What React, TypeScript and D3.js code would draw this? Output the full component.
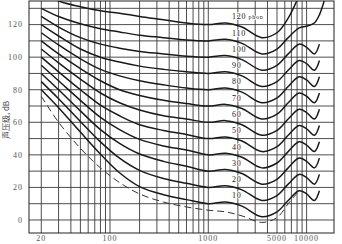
import React from 'react';
import * as d3 from 'd3';

// Frequencies (Hz) at which each equal-loudness curve is read
const FREQS = [20, 30, 50, 80, 125, 200, 350, 600, 1000, 1500, 2200, 3500, 5000, 6500, 8400, 10000, 12000, 13500, 15500];
const PHONS = [10, 20, 30, 40, 50, 60, 70, 80, 90, 100, 110, 120];

const CURVE_10 = [80, 69, 54, 40.5, 29, 20.5, 15.5, 12.5, 10, 11, 8.5, 2, 5, 12, 18, 16, 12, 18, null];
const CURVE_20 = [85, 74.5, 60.5, 48, 38, 30.5, 25.5, 22.5, 20, 21, 18.5, 12, 15, 22, 28, 26, 22, 28, null];
const CURVE_30 = [90, 80, 67, 55.5, 47, 40.5, 36, 33, 30, 31, 28.5, 22, 25, 32, 38, 36, 32, 38, null];
const CURVE_40 = [95, 85.5, 73.5, 63, 55.5, 49.5, 45.5, 43, 40, 41, 38.5, 32, 35, 42, 48, 46, 42, 48, null];
const CURVE_50 = [100, 91, 80, 70.5, 64, 58.5, 55, 52.5, 50, 51, 48.5, 42, 45, 52, 58, 56, 52, 58, null];
const CURVE_60 = [105, 96.5, 86.5, 78, 72, 67.5, 64, 62, 60, 61, 58.5, 52, 55, 62, 68, 66, 62, 68, null];
const CURVE_70 = [110, 102, 93, 85.5, 80, 76.5, 73.5, 71.5, 70, 71, 68.5, 62, 65, 72, 78, 76, 72, 78, null];
const CURVE_80 = [115, 107.5, 99, 92.5, 88.5, 85.5, 83, 81, 80, 81, 78.5, 72, 75, 82, 88, 86, 82, 88, null];
const CURVE_90 = [120, 113, 105, 100, 97, 94.5, 92.5, 91, 90, 91, 88.5, 82, 85, 92, 98, 96, 92, 98, null];
const CURVE_100 = [125, 118.5, 112, 108, 105.5, 103.5, 102, 100.5, 100, 101, 98.5, 92, 95, 102, 108, 106, 102, 108, null];
const CURVE_110 = [130, 125, 120.5, 117.5, 115.5, 113.5, 112, 110.5, 110, 111, 108.5, 102, 105, 112, 118, 119, 121, 126, 137];
const CURVE_120 = [140, 134.5, 131, 128.5, 127, 125, 123, 121, 120, 121, 118.5, 112, 115, 124, 138, null, null, null, null];

const CURVES = [CURVE_10, CURVE_20, CURVE_30, CURVE_40, CURVE_50, CURVE_60, CURVE_70, CURVE_80, CURVE_90, CURVE_100, CURVE_110, CURVE_120];

// Threshold of hearing (dashed)
const THRESHOLD_FREQS = [20, 30, 50, 80, 125, 200, 350, 600, 1000, 1500, 2200, 3500, 5000, 6500, 8000];
const THRESHOLD_DB = [76, 60, 44, 32, 23, 16, 11, 8, 6, 5, 2.5, -1.5, 1.5, 10, 16.5];

const Y_TICKS = [0, 20, 40, 60, 80, 100, 120];
const Y_GRID = [0, 10, 20, 30, 40, 50, 60, 70, 80, 90, 100, 110, 120, 130];
const X_TICKS = [20, 100, 1000, 5000, 10000];
const X_GRID = [20, 30, 40, 50, 60, 70, 80, 90, 100, 200, 300, 400, 500, 600, 700, 800, 900,
  1000, 2000, 3000, 4000, 5000, 6000, 7000, 8000, 9000, 10000];

const Y_TITLE = '声压级, dB';

export default function App() {
  const W = 342, H = 244;
  const x = d3.scaleLog().domain([15, 19000]).range([29, 334]);
  const y = d3.scaleLinear().domain([-8, 134.5]).range([233, 1]);
  const [x0, x1] = x.range();
  const [y0, y1] = y.range();

  const line = d3.line<[number, number]>()
    .x(d => x(d[0]))
    .y(d => y(d[1]))
    .curve(d3.curveCatmullRom.alpha(0.5));

  const curvePaths = CURVES.map(vals => {
    const pts: [number, number][] = [];
    vals.forEach((v, i) => { if (v !== null) pts.push([FREQS[i], v as number]); });
    return line(pts) || '';
  });
  const thrPts: [number, number][] = THRESHOLD_FREQS.map((f, i) => [f, THRESHOLD_DB[i]]);
  const thrPath = line(thrPts) || '';

  const labelX = 232;
  const tickFont = '"Liberation Serif", "DejaVu Serif", serif';
  const gridColor = '#3a3a3a';

  return (
    <svg width={W} height={H} style={{ position: 'absolute', left: 0, top: 0, background: '#fff' }}>
      <defs>
        <clipPath id="plotClip">
          <rect x={x0} y={y1} width={x1 - x0} height={y0 - y1} />
        </clipPath>
      </defs>
      <rect x={0} y={0} width={W} height={H} fill="#fff" />
      {/* grid */}
      {Y_GRID.map(v => (
        <line key={'gy' + v} x1={x0} x2={x1} y1={y(v)} y2={y(v)} stroke={gridColor} strokeWidth={0.9} />
      ))}
      {X_GRID.map(v => (
        <line key={'gx' + v} x1={x(v)} x2={x(v)} y1={y1} y2={y0} stroke={gridColor} strokeWidth={0.9} />
      ))}
      <rect x={x0} y={y1} width={x1 - x0} height={y0 - y1} fill="none" stroke="#222" strokeWidth={1} />
      {/* curves */}
      <g clipPath="url(#plotClip)">
        {curvePaths.map((d, i) => (
          <path key={'c' + i} d={d} fill="none" stroke="#1a1a1a" strokeWidth={1.5} />
        ))}
        <path d={thrPath} fill="none" stroke="#333" strokeWidth={1} strokeDasharray="7 4" />
      </g>
      {/* curve labels */}
      {PHONS.map(p => (
        <text key={'l' + p} x={labelX} y={y(p + 5)} dy="0.35em" fontFamily={tickFont}
          fontSize={8} fill="#222" letterSpacing={0.8} stroke="#fff" strokeWidth={1.5} paintOrder="stroke">
          {p}
          {p === 120 ? <tspan fontSize={6} dx={2}>phon</tspan> : null}
        </text>
      ))}
      {/* y ticks */}
      {Y_TICKS.map(v => (
        <text key={'yt' + v} x={23} y={y(v)} dy="0.35em" textAnchor="end" fontFamily={tickFont}
          fontSize={8} fill="#555" letterSpacing={1}>{v}</text>
      ))}
      {/* x ticks */}
      {X_TICKS.map(v => (
        <text key={'xt' + v} x={x(v)} y={241} textAnchor="middle" fontFamily={tickFont}
          fontSize={8} fill="#555" letterSpacing={1}>{v}</text>
      ))}
      <text transform={`translate(9,${(y0 + y1) / 2 + 3}) rotate(-90)`} textAnchor="middle"
        fontFamily='"Noto Sans CJK SC", sans-serif' fontSize={8} fill="#444">{Y_TITLE}</text>
    </svg>
  );
}
